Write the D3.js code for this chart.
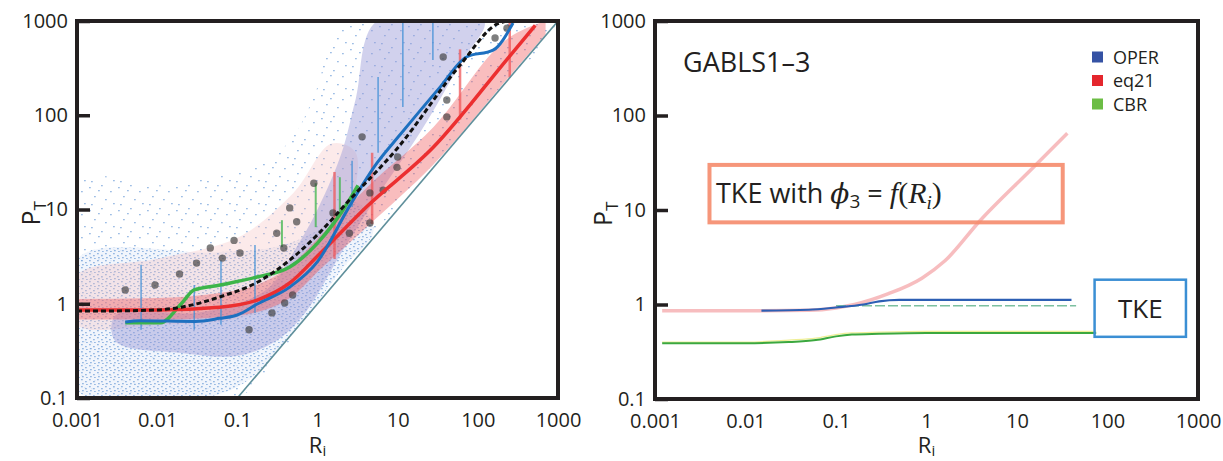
<!DOCTYPE html>
<html lang="en">
<head>
<meta charset="UTF-8">
<title>PT vs Ri</title>
<script src="https://cdn.jsdelivr.net/npm/d3@7"></script>
<style>
  body { margin: 0; background: #fff; }
  text { font-family: "Open Sans", sans-serif; fill: #231f20; }
</style>
</head>
<body>
<svg id="chart"></svg>
<script>
// log decades on both axes
const xTicks = [0.001, 0.01, 0.1, 1, 10, 100, 1000];
const xTickLabels = ["0.001", "0.01", "0.1", "1", "10", "100", "1000"];
const yTicks = [0.1, 1, 10, 100, 1000];
const yTickLabels = ["0.1", "1", "10", "100", "1000"];

// ---- left panel: observations and bin means
// outlines of the scatter cloud (sparse outer part, denser lower band, dense core)
const cloudRi = [0.001, 0.001, 0.1, 1, 10, 100, 900, 2, 1, 0.5, 0.2, 0.05, 0.01];
const cloudP  = [20, 0.1, 0.1, 1.1, 11, 110, 1000, 1000, 200, 60, 30, 22, 18];
const lowRi = [0.001, 0.001, 0.08, 0.5, 2, 5, 3, 1, 0.3, 0.05];
const lowP  = [3, 0.12, 0.12, 0.5, 2.3, 6, 12, 6, 4, 3.5];
const denseRi = [0.003, 0.003, 0.02, 0.1, 0.3, 0.7, 2, 5, 20, 60, 120, 5.5, 3, 2, 1, 0.5, 0.25, 0.1, 0.03];
const denseP  = [0.75, 0.4, 0.3, 0.28, 0.4, 0.8, 3.5, 12, 70, 350, 1000, 1000, 150, 40, 10, 3.5, 1.5, 1.0, 0.8];
const hazeRi = [0.001, 0.001, 0.01, 0.1, 0.5, 1.5, 3, 2, 0.5, 0.1, 0.01];
const hazeP  = [0.6, 2, 3, 5, 15, 50, 40, 6, 1.2, 0.7, 0.6];

const bandRi = [0.001, 0.01, 0.06, 0.18, 0.45, 1.07, 4.1, 28, 230, 700];
const bandLo = [0.68, 0.68, 0.72, 0.82, 1.15, 2.3, 6.5, 30, 240, 720];
const bandHi = [1.12, 1.15, 1.3, 1.6, 2.5, 5.2, 17, 75, 640, 1000];

const dashRi = [0.001, 0.003, 0.01, 0.02, 0.06, 0.18, 0.45, 1, 2.5, 10, 60, 175, 230];
const dashP  = [0.84, 0.84, 0.86, 0.92, 1.18, 1.7, 2.9, 5.4, 12.6, 45, 340, 930, 1000];
const eq21Ri = [0.001, 0.01, 0.06, 0.18, 0.45, 1.07, 4.1, 28, 230, 520];
const eq21P  = [0.86, 0.86, 0.92, 1.1, 1.66, 3.4, 10.7, 46, 390, 900];
const operRi = [0.004, 0.006, 0.03, 0.06, 0.1, 0.18, 0.45, 1, 2.5, 5.5, 10.7, 34, 72, 155, 275];
const operP  = [0.64, 0.66, 0.65, 0.7, 0.76, 1.0, 1.5, 2.8, 10.8, 31, 62, 200, 415, 490, 950];
const cbrRi = [0.004, 0.011, 0.02, 0.029, 0.061, 0.176, 0.45, 1, 2.5, 3.2];
const cbrP  = [0.63, 0.63, 1.0, 1.4, 1.58, 1.92, 2.45, 4.4, 12.6, 18];
const diagRi = [0.1, 1000];
const diagP  = [0.1, 1000];

const dotRi = [0.004, 0.0094, 0.019, 0.031, 0.046, 0.065, 0.091, 0.14, 0.27, 0.39, 0.45, 0.38, 0.9, 0.31, 0.55,
               3.6, 10, 9.8, 41, 41, 37, 164, 231, 4.5, 6.6, 1.56, 2.5, 4.5, 0.108, 0.49];
const dotP  = [1.4, 1.58, 2.07, 2.7, 3.9, 3.05, 4.7, 0.53, 0.8, 1.02, 10.4, 3.9, 19, 5.6, 7.4,
               59, 36, 28, 145, 96, 415, 660, 840, 15, 16, 9.2, 5.6, 7.2, 3.45, 1.24];

const blueBarRi = [0.0063, 0.029, 0.0625, 0.166, 2.7, 5.7, 11.6, 27.5];
const blueBarLo = [0.53, 0.53, 0.6, 0.8, 10.6, 40, 122, 385];
const blueBarHi = [2.6, 1.58, 2.9, 4.2, 33, 255, 1000, 1000];
const redBarRi = [1.63, 4.8, 60, 250];
const redBarLo = [3, 7, 90, 250];
const redBarHi = [25, 40, 500, 1000];
const greenBarRi = [0.36, 0.95, 1.9];
const greenBarLo = [4, 6.5, 8.4];
const greenBarHi = [7.7, 19, 22];

// ---- right panel: GABLS1-3 runs
const rEq21Ri = [0.0012, 0.01, 0.05, 0.1, 0.16, 0.38, 0.89, 1.6, 3.9, 15, 36];
const rEq21P  = [0.86, 0.86, 0.87, 0.92, 1.0, 1.3, 1.9, 2.9, 7.7, 28, 65];
const rOperRi = [0.015, 0.05, 0.1, 0.2, 0.3, 0.5, 1, 40];
const rOperP  = [0.86, 0.88, 0.93, 1.0, 1.08, 1.12, 1.12, 1.12];
const rCbrRi = [0.0012, 0.01, 0.03, 0.06, 0.1, 0.15, 0.3, 1, 10, 75];
const rCbrP  = [0.39, 0.39, 0.40, 0.42, 0.46, 0.48, 0.49, 0.5, 0.5, 0.5];
const rCbrYelP = [0.40, 0.40, 0.42, 0.44, 0.48, 0.50, 0.51, 0.52, 0.52, 0.52];
const rThinRi = [0.1, 45];
const rThinP  = [0.97, 0.97];

const legendNames = ["OPER", "eq21", "CBR"];
const legendColors = ["#3552a4", "#e4262d", "#6cbd45"];

const W = 1223, H = 461;
const svg = d3.select("#chart").attr("width", W).attr("height", H);
const defs = svg.append("defs");

// speckle textures for the scatter cloud
function speckle(id, w, h, bg, pts) {
  const p = defs.append("pattern").attr("id", id).attr("patternUnits", "userSpaceOnUse")
    .attr("width", w).attr("height", h);
  if (bg) p.append("rect").attr("width", w).attr("height", h).attr("fill", bg);
  pts.forEach(q => p.append("rect").attr("x", q[0]).attr("y", q[1])
    .attr("width", 1.8).attr("height", 1.3).attr("fill", "#7ea8dc"));
}
speckle("sparse", 29, 23, null, [[2, 3], [14, 1], [23, 7], [7, 12], [18, 15], [26, 19], [4, 20], [11, 6]]);
speckle("dense", 8, 7, "#eef3fb", [[1, 1], [5, 3], [2, 5], [6, 6]]);

function makePanel(id, x0, x1, y0, y1) {
  const x = d3.scaleLog().domain([0.001, 1000]).range([x0, x1]);
  const y = d3.scaleLog().domain([0.1, 1000]).range([y1, y0]);
  defs.append("clipPath").attr("id", "clip-" + id)
    .append("rect").attr("x", x0).attr("y", y0).attr("width", x1 - x0).attr("height", y1 - y0);
  const g = svg.append("g").attr("id", id);
  const plot = g.append("g").attr("clip-path", `url(#clip-${id})`);
  const line = d3.line().x(d => x(d[0])).y(d => y(d[1]));
  return {x, y, g, plot, line, x0, x1, y0, y1};
}

function drawAxes(p, ylabX, xlabY) {
  const yAxis = d3.axisLeft(p.y).tickValues(yTicks).tickFormat((d, i) => yTickLabels[i])
    .tickSizeInner(-13).tickSizeOuter(0).tickPadding(9);
  const ya = p.g.append("g").attr("transform", `translate(${p.x0},0)`).call(yAxis);
  const xAxis = d3.axisBottom(p.x).tickValues(xTicks).tickFormat((d, i) => xTickLabels[i])
    .tickSize(0).tickPadding(15);
  const xa = p.g.append("g").attr("transform", `translate(0,${p.y1})`).call(xAxis);
  [ya, xa].forEach(a => {
    a.select(".domain").remove();
    a.selectAll("text").attr("font-size", 20).attr("font-family", "Open Sans").attr("fill", "#231f20");
  });
  ya.selectAll("line").attr("stroke", "#231f20").attr("stroke-width", 3.5);

  p.g.append("rect").attr("x", p.x0).attr("y", p.y0)
    .attr("width", p.x1 - p.x0).attr("height", p.y1 - p.y0)
    .attr("fill", "none").attr("stroke", "#231f20").attr("stroke-width", 4);

  const pt = p.g.append("text")
    .attr("transform", `translate(${ylabX},${(p.y0 + p.y1) / 2 + 16}) rotate(-90)`)
    .attr("font-size", 25);
  pt.append("tspan").text("P");
  pt.append("tspan").attr("font-size", 17).attr("dy", 6).text("T");

  const ri = p.g.append("text").attr("x", p.x(1)).attr("y", xlabY)
    .attr("text-anchor", "middle").attr("font-size", 22);
  ri.append("tspan").text("R");
  ri.append("tspan").attr("font-size", 15).attr("dy", 3).text("i");
}

// ---------- left panel
const L = makePanel("left", 77, 558, 21, 398);
const blob = d3.line().x(d => L.x(d[0])).y(d => L.y(d[1])).curve(d3.curveCatmullRomClosed.alpha(0.5));

L.plot.append("path").attr("d", blob(d3.zip(cloudRi, cloudP)))
  .attr("fill", "url(#sparse)").attr("opacity", 0.75);
L.plot.append("path").attr("d", blob(d3.zip(lowRi, lowP)))
  .attr("fill", "url(#dense)").attr("opacity", 0.8);
L.plot.append("path").attr("d", blob(d3.zip(hazeRi, hazeP)))
  .attr("fill", "#f4b9bb").attr("opacity", 0.3);
L.plot.append("path").attr("d", blob(d3.zip(denseRi, denseP)))
  .attr("fill", "#9a9ad6").attr("opacity", 0.45);

const band = d3.area().x(d => L.x(d[0])).y0(d => L.y(d[1])).y1(d => L.y(d[2])).curve(d3.curveMonotoneX);
L.plot.append("path").attr("d", band(d3.zip(bandRi, bandLo, bandHi)))
  .attr("fill", "#f05a5c").attr("opacity", 0.4);

function bars(ri, lo, hi, color, w) {
  L.plot.append("g").selectAll("line").data(d3.zip(ri, lo, hi)).join("line")
    .attr("x1", d => L.x(d[0])).attr("x2", d => L.x(d[0]))
    .attr("y1", d => L.y(d[1])).attr("y2", d => L.y(d[2]))
    .attr("stroke", color).attr("stroke-width", w).attr("opacity", 0.75);
}
bars(blueBarRi, blueBarLo, blueBarHi, "#3f8fd6", 1.6);
bars(redBarRi, redBarLo, redBarHi, "#f0585a", 2.5);
bars(greenBarRi, greenBarLo, greenBarHi, "#3db54a", 2);

L.plot.append("path").attr("d", L.line(d3.zip(diagRi, diagP)))
  .attr("fill", "none").attr("stroke", "#5f8f9b").attr("stroke-width", 1.6);

L.plot.append("g").selectAll("circle").data(d3.zip(dotRi, dotP)).join("circle")
  .attr("cx", d => L.x(d[0])).attr("cy", d => L.y(d[1])).attr("r", 3.7)
  .attr("fill", "#3a3a3a").attr("opacity", 0.65);

const smooth = d3.line().x(d => L.x(d[0])).y(d => L.y(d[1])).curve(d3.curveMonotoneX);
L.plot.append("path").attr("d", smooth(d3.zip(cbrRi, cbrP)))
  .attr("fill", "none").attr("stroke", "#3db54a").attr("stroke-width", 3.5);
L.plot.append("path").attr("d", smooth(d3.zip(eq21Ri, eq21P)))
  .attr("fill", "none").attr("stroke", "#ec2f30").attr("stroke-width", 3.5);
L.plot.append("path").attr("d", smooth(d3.zip(operRi, operP)))
  .attr("fill", "none").attr("stroke", "#1d70c0").attr("stroke-width", 3);
L.plot.append("path").attr("d", smooth(d3.zip(dashRi, dashP)))
  .attr("fill", "none").attr("stroke", "#111").attr("stroke-width", 3)
  .attr("stroke-dasharray", "5,3");

drawAxes(L, 40, 453);

// ---------- right panel
const R = makePanel("right", 655, 1198, 21, 399);
const rs = d3.line().x(d => R.x(d[0])).y(d => R.y(d[1])).curve(d3.curveMonotoneX);

R.plot.append("path").attr("d", rs(d3.zip(rEq21Ri, rEq21P)))
  .attr("fill", "none").attr("stroke", "#f07c80").attr("stroke-width", 3.5).attr("opacity", 0.5);
R.plot.append("path").attr("d", rs(d3.zip(rThinRi, rThinP)))
  .attr("fill", "none").attr("stroke", "#7cc0a0").attr("stroke-width", 1.5)
  .attr("stroke-dasharray", "10,3");
R.plot.append("path").attr("d", rs(d3.zip(rOperRi, rOperP)))
  .attr("fill", "none").attr("stroke", "#2d5fb4").attr("stroke-width", 2.2);
R.plot.append("path").attr("d", rs(d3.zip(rCbrRi, rCbrYelP)))
  .attr("fill", "none").attr("stroke", "#e8e86a").attr("stroke-width", 1.2).attr("opacity", 0.7);
R.plot.append("path").attr("d", rs(d3.zip(rCbrRi, rCbrP)))
  .attr("fill", "none").attr("stroke", "#3ba83f").attr("stroke-width", 2);

drawAxes(R, 612, 453);

R.g.append("text").attr("x", 683).attr("y", 72).attr("font-size", 27).text("GABLS1–3");

const leg = R.g.append("g").selectAll("g").data(legendNames).join("g")
  .attr("transform", (d, i) => `translate(1092,${57 + i * 23.5})`);
leg.append("rect").attr("x", 0).attr("y", -5.5).attr("width", 11).attr("height", 11)
  .attr("fill", (d, i) => legendColors[i]);
leg.append("text").attr("x", 21).attr("y", 6.5).attr("font-size", 18).text(d => d);

// annotation boxes (placed in data units)
R.g.append("rect").attr("x", R.x(0.004)).attr("y", R.y(30))
  .attr("width", R.x(32) - R.x(0.004)).attr("height", R.y(7.4) - R.y(30))
  .attr("fill", "none").attr("stroke", "#f58b6c").attr("stroke-width", 4).attr("opacity", 0.9);
const tk = R.g.append("text").attr("x", 716).attr("y", 203).attr("font-size", 27);
tk.append("tspan").text("TKE with ");
tk.append("tspan").attr("font-family", "DejaVu Serif").attr("font-style", "italic").attr("font-size", 28).text("ϕ");
tk.append("tspan").attr("font-size", 19).attr("dy", 5).text("3");
tk.append("tspan").attr("dy", -5).text(" = ");
tk.append("tspan").attr("font-family", "Liberation Serif").attr("font-style", "italic").attr("font-size", 30).text("f");
tk.append("tspan").attr("font-family", "Liberation Serif").attr("font-size", 30).text("(");
tk.append("tspan").attr("font-family", "Liberation Serif").attr("font-style", "italic").attr("font-size", 30).text("R");
tk.append("tspan").attr("font-family", "Liberation Serif").attr("font-style", "italic").attr("font-size", 19).attr("dy", 6).text("i");
tk.append("tspan").attr("font-family", "Liberation Serif").attr("font-size", 30).attr("dy", -6).text(")");

R.g.append("rect").attr("x", R.x(72)).attr("y", R.y(1.83))
  .attr("width", R.x(736) - R.x(72)).attr("height", R.y(0.455) - R.y(1.83))
  .attr("fill", "none").attr("stroke", "#3b8fd4").attr("stroke-width", 2.5);
R.g.append("text").attr("x", (R.x(72) + R.x(736)) / 2).attr("y", 318)
  .attr("text-anchor", "middle").attr("font-size", 26).text("TKE");
</script>
</body>
</html>
